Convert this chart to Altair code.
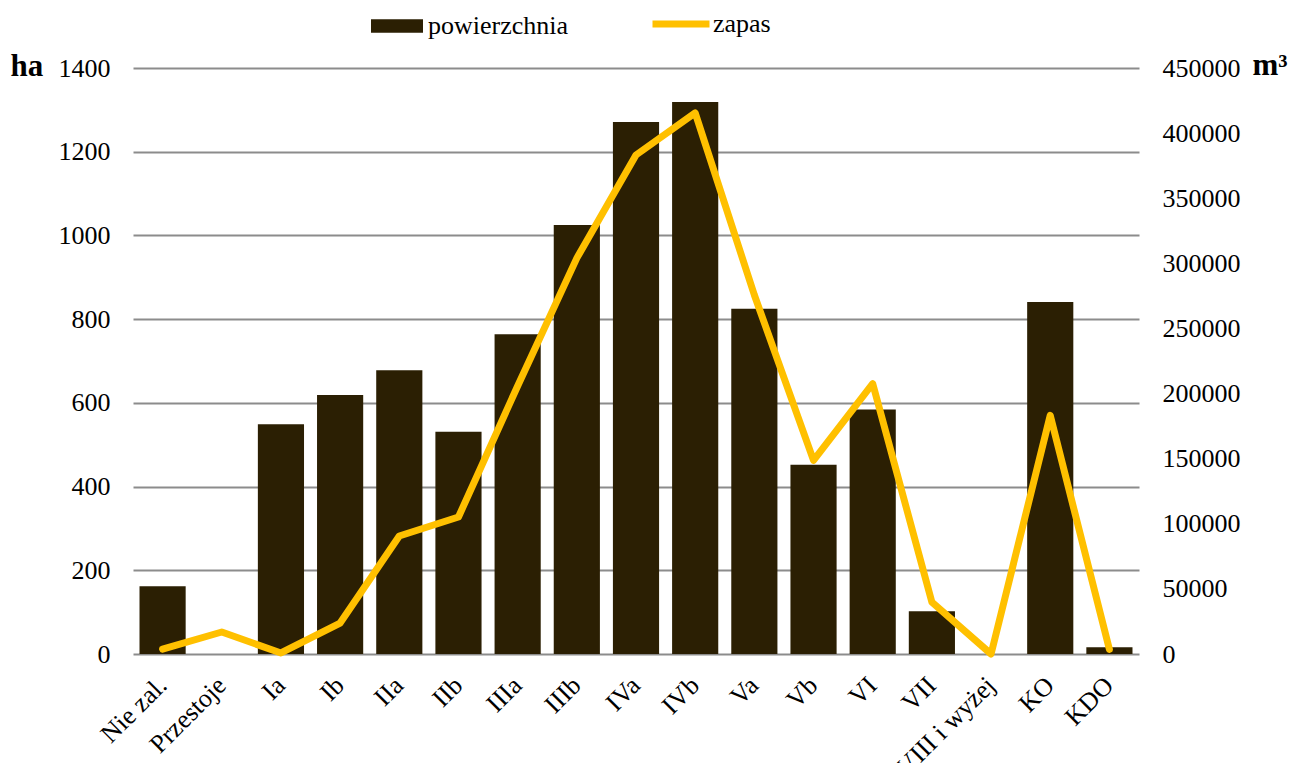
import altair as alt
import pandas as pd

categories = ["Nie zal.", "Przestoje", "Ia", "Ib", "IIa", "IIb", "IIIa", "IIIb",
              "IVa", "IVb", "Va", "Vb", "VI", "VII", "VIII i wyżej", "KO", "KDO"]
powierzchnia = [162, 0, 549, 619, 678, 531, 764, 1025, 1271, 1319, 825, 452, 584, 102, 0, 841, 16]
zapas = [3800, 16900, 800, 23800, 90600, 105200, 205800, 304000, 383200, 415500,
         275700, 148700, 207600, 39800, 0, 183200, 3500]
left_ticks = [0, 200, 400, 600, 800, 1000, 1200, 1400]
right_ticks = [0, 50000, 100000, 150000, 200000, 250000, 300000, 350000, 400000, 450000]

df = pd.DataFrame({"kat": categories, "ha": powierzchnia, "m3": zapas})

FONT = "Liberation Serif"
BAR = "#2B1F03"
LINE = "#FFC000"

x = alt.X("kat:N", sort=categories, title=None,
          scale=alt.Scale(paddingInner=0.22, paddingOuter=0.11),
          axis=alt.Axis(labelAngle=-45, labelAlign="right", labelBaseline="middle",
                        labelPadding=27, ticks=False, domain=False, labelFontSize=26,
                        labelFont=FONT, labelColor="black", grid=False))

bars = alt.Chart(df).transform_calculate(s1="'powierzchnia'").mark_bar().encode(
    x=x,
    y=alt.Y("ha:Q", scale=alt.Scale(domain=[0, 1400], nice=False),
            axis=alt.Axis(values=left_ticks, format="d", title="ha", titleAngle=0,
                          titleAlign="left", titleBaseline="alphabetic", titleX=-123, titleY=7,
                          titleFont=FONT, titleFontSize=31, titleFontWeight="bold",
                          titleColor="black",
                          labelFont=FONT, labelFontSize=26, labelColor="black",
                          labelPadding=23, ticks=False, domain=False,
                          grid=True, gridColor="#8c8c8c", gridWidth=1.8)),
    color=alt.Color("s1:N", scale=alt.Scale(domain=["powierzchnia"], range=[BAR]),
                    legend=alt.Legend(title=None, orient="none", legendX=238, legendY=-68,
                                      symbolType="M-1,-0.26H1V0.26H-1Z", symbolSize=2704,
                                      symbolStrokeWidth=0, labelFont=FONT, labelFontSize=26,
                                      labelColor="black", labelOffset=5, padding=0)),
)

line = alt.Chart(df).transform_calculate(s2="'zapas'").mark_line(
    strokeWidth=7, strokeCap="round", strokeJoin="round"
).encode(
    x=x,
    y=alt.Y("m3:Q", scale=alt.Scale(domain=[0, 450000], nice=False),
            axis=alt.Axis(values=right_ticks, format="d", orient="right", title="m³",
                          titleAngle=0, titleAlign="left", titleBaseline="alphabetic",
                          titleX=113, titleY=6,
                          titleFont=FONT, titleFontSize=31, titleFontWeight="bold",
                          titleColor="black",
                          labelFont=FONT, labelFontSize=26, labelColor="black",
                          labelPadding=23, ticks=False, domain=False, grid=False)),
    stroke=alt.Stroke("s2:N", scale=alt.Scale(domain=["zapas"], range=[LINE]),
                      legend=alt.Legend(title=None, orient="none", legendX=516, legendY=-76,
                                        symbolType="stroke", symbolSize=3249,
                                        symbolStrokeWidth=7, labelFont=FONT, labelFontSize=26,
                                        labelColor="black", labelOffset=0, padding=0)),
)

chart = alt.layer(bars, line).resolve_scale(
    y="independent", color="independent", stroke="independent"
).properties(
    width=1006, height=586,
    autosize=alt.AutoSizeParams(type="none"),
    padding={"left": 125, "top": 60, "right": 149, "bottom": 109},
    background="white",
).configure_view(stroke=None).configure_legend(
    labelFont=FONT, labelFontSize=26, labelColor="black"
)

chart.save("out.html", embed_options={"renderer": "svg", "actions": False})
